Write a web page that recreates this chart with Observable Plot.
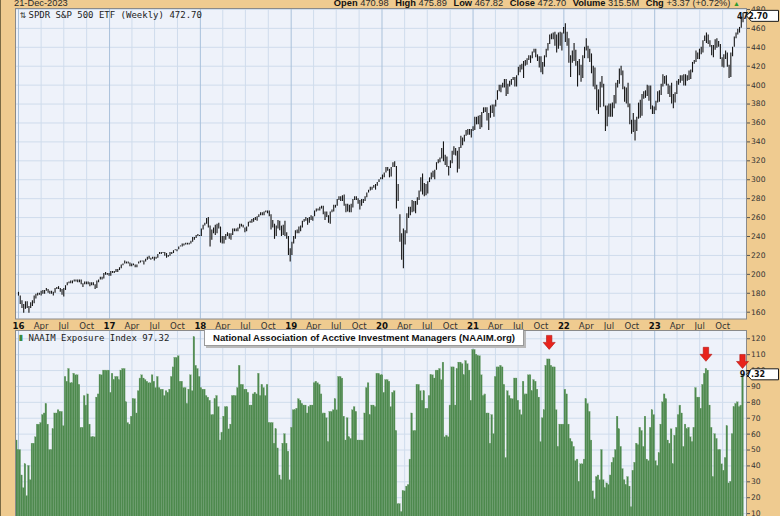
<!DOCTYPE html>
<html><head><meta charset="utf-8">
<script src="https://cdn.jsdelivr.net/npm/d3@7"></script>
<script src="https://cdn.jsdelivr.net/npm/@observablehq/plot@0.6"></script>
<style>
html,body{margin:0;padding:0;background:#efcb90;}
#wrap{position:relative;width:780px;height:516px;overflow:hidden;background:#efcb90;font-family:"Liberation Sans",Arial,sans-serif;}
#wrap svg{position:absolute;left:0;overflow:visible;}
.hdr{position:absolute;top:-2px;font-size:9.3px;line-height:10px;color:#2a2a2a;white-space:nowrap;}
.hdr b{font-weight:bold;color:#111;margin-left:4px;}
#edge{position:absolute;left:0;top:0;width:1px;height:516px;background:#7a6a44;}
#naaimBox{position:absolute;left:204px;top:329px;width:318px;height:15px;background:#fff;border:1px solid #9a9a9a;box-shadow:2px 2px 0 #b9b9b9;font:bold 9.6px "Liberation Sans",Arial,sans-serif;line-height:15px;text-align:center;color:#111;}
</style></head><body>
<div id="wrap"></div>
<script>
// ---------------- data ----------------
const priceStart = "2016-01-01";           // first weekly bar (week ending)
const spyLow = [177,
168,164,159,163,164,159,164,166,169,174,177,178,177,179,179,182,180,179,179,177,180,184,184,181,178,176,183,188,190,190,190,192,192,191,191,189,186,189,189,189,187,188,188,184,185,191,194,194,195,199,199,198,
198,201,201,202,202,204,206,209,211,211,211,208,208,209,207,207,211,212,213,210,213,215,216,215,216,214,216,217,221,221,222,219,217,218,219,221,222,225,224,226,229,229,230,231,231,231,232,234,236,238,240,240,
240,247,251,253,249,229,236,243,241,243,248,233,232,232,236,240,237,236,241,245,245,245,248,250,249,244,245,250,254,254,255,257,256,260,262,262,262,265,264,261,247,249,237,240,248,246,240,241,240,237,220,213,
220,232,237,243,243,245,249,255,256,252,254,257,256,261,266,267,267,269,263,257,260,254,253,265,266,270,272,278,277,277,272,265,266,265,265,270,278,278,274,268,272,275,277,281,286,288,289,291,289,293,297,300,
300,302,307,309,302,303,313,313,269,277,234,215,206,231,243,259,262,265,266,264,273,278,287,284,282,283,285,297,300,302,300,310,317,318,322,319,315,313,304,312,317,326,325,307,311,333,336,340,346,347,347,344,351,
352,358,358,353,355,370,371,362,352,365,370,366,377,384,393,392,397,397,388,390,398,400,405,398,398,410,413,416,407,420,421,426,423,428,434,429,425,418,413,411,419,429,436,443,448,448,441,434,438,441,436,454,
445,441,423,408,423,425,420,398,410,403,407,428,436,428,424,412,398,395,373,369,376,397,377,351,356,366,366,366,375,380,397,401,410,395,382,380,376,358,348,350,341,351,364,365,367,385,386,388,383,374,369,369,
373,381,382,389,398,401,399,390,387,380,375,381,390,400,402,404,399,399,404,405,406,413,422,424,427,427,432,434,446,444,443,440,431,429,437,439,440,427,419,418,427,419,407,408,430,440,449,453,455,460,466];
const spyHigh = [181,
177,172,168,171,171,166,170,172,177,179,180,180,182,183,183,185,184,182,182,181,185,186,187,185,184,185,188,191,192,193,193,194,194,194,194,194,190,192,192,192,191,191,191,189,193,194,197,197,201,202,201,201,
203,203,203,205,205,207,210,211,214,213,213,212,211,211,210,210,213,214,214,214,216,218,219,217,218,218,218,221,223,223,223,223,222,220,223,223,225,226,226,229,230,232,232,233,233,233,235,239,239,241,242,241,
248,252,254,259,260,251,247,249,252,253,254,250,240,240,242,244,243,243,248,248,248,249,253,253,252,249,250,255,256,258,259,260,261,263,265,265,266,267,267,267,263,257,253,251,257,256,251,252,256,244,240,227,
234,240,246,247,250,251,256,258,260,259,260,262,261,267,269,269,271,272,272,266,266,262,266,268,273,273,279,282,282,283,284,274,274,273,274,279,282,282,280,278,279,279,282,286,289,292,292,294,295,297,300,302,
305,307,313,313,311,313,318,319,314,295,263,243,248,246,264,271,271,278,277,277,281,288,302,306,296,295,298,302,307,309,310,318,321,323,333,340,326,324,314,320,330,335,333,330,334,346,344,347,352,353,353,353,356,
366,366,367,368,371,376,376,376,370,378,379,379,384,394,400,400,402,406,406,401,404,406,408,408,410,419,421,422,425,426,428,431,431,435,438,438,432,430,430,424,431,438,444,453,454,455,456,453,455,456,455,461,
465,456,449,431,436,444,437,425,427,421,431,440,449,441,438,433,420,418,400,395,403,409,401,378,378,380,380,381,389,402,405,417,420,415,398,397,402,380,363,370,363,366,381,384,390,393,394,400,399,399,378,377,
383,393,394,401,411,409,410,401,399,402,390,392,404,406,410,410,411,411,410,415,416,424,426,436,434,438,440,447,452,455,453,447,442,442,448,449,446,443,429,432,436,434,421,434,440,451,455,459,461,472,476];
const spyLast = 472.70;

const naaimStart = "2015-12-18";           // first weekly reading (partly hidden by the left edge)
const naaim = [
56,56,50,50,34,26,41,21,40,31, 54,54,58,66,66,67,72,73,79,66, 50,50,63,73,73,75,74,74,65,96,
93,101,92,92,98,97,97,91,64,64, 84,78,85,66,58,58,58,83,85,97, 97,100,100,100,100,86,98,94,96,96,
94,100,101,101,80,67,66,71,82,82, 73,87,95,97,95,94,93,92,92,97, 93,89,96,89,88,88,84,87,86,88,
96,102,108,108,109,93,93,89,89,79, 88,97,87,121,103,101,96,89,88,88, 84,83,81,72,72,82,84,77,56,61,
71,77,77,63,66,84,84,84,89,103, 91,91,88,88,86,78,78,85,86,85, 98,84,91,89,84,91,67,67,67,54,
63,51,34,31,54,60,54,49,31,64, 75,75,76,82,81,79,78,78,73,77, 78,78,92,93,92,91,85,73,73,70,
55,74,74,75,82,75,96,96,95,71, 56,70,58,57,75,77,74,56,56,56, 56,73,89,92,72,78,78,77,98,98,
97, 97,86,94,94,93,77,86,87,62,
16,16,11,24,24,27,28,44,73,62, 62,91,91,87,81,87,76,76,84,97, 97,95,100,100,101,94,105,58,59,58,
78,102,102,78,101,105,105,104,97,106, 104,100,81,113,113,110,109,109,97,84, 85,73,73,54,72,60,96,102,102,103,
102,91,45,87,84,82,82,95,95,81, 75,72,93,85,85,97,97,87,94,93, 88,83,55,70,75,103,107,107,103,102,
102,75,52,66,66,66,88,85,66,57, 55,52,43,44,30,41,41,44,82,79, 74,56,24,19,33,34,31,50,31,26,
29,28,34,42,45,50,71,63,52,38, 31,28,33,27,14,37,42,54,53,64, 62,52,71,44,43,64,75,72,43,40,
48,66,80,85,82,56,54,63,41,59, 64,72,78,73,52,66,63,64,58,55, 64,89,83,83,76,91,98,101,100,78,
64,33,60,57,50,50,41,37,45,65, 29,30,60,77,79,80,77,78,97.32];
const naaimLast = 97.32;

const priceTicks = [160,180,200,220,240,260,280,300,320,340,360,380,400,420,440,460,480];
const naaimTicks = [10,20,30,40,50,60,70,80,90,100,110,120];
const yearLabels = ["16","17","18","19","20","21","22","23"];
const monthLabels = ["Apr","Jul","Oct"];
const arrowDates = ["2021-11-05","2023-07-28","2023-12-22"];
const arrowTips = [113,105.5,101];

const headerDate = "21-Dec-2023";
const headerStats = [["Open","470.98"],["High","475.89"],["Low","467.82"],["Close","472.70"],["Volume","315.5M"],["Chg","+3.37 (+0.72%)"]];

// ---------------- build ----------------
const DAY = 864e5;
const t0 = new Date(priceStart + "T00:00:00Z");
const spy = spyLow.map((lo, i) => ({date: new Date(+t0 + i * 7 * DAY), low: lo, high: spyHigh[i]}));
const n0 = new Date(naaimStart + "T00:00:00Z");
const naaimData = naaim.map((v, i) => ({date: new Date(+n0 + i * 7 * DAY), value: v}));

const xDomain = [new Date("2015-12-20T00:00:00Z"), new Date("2024-01-05T00:00:00Z")];
const quarters = d3.utcMonth.every(3).range(new Date("2016-01-01T00:00:00Z"), new Date("2024-01-01T00:00:00Z"));
const years = quarters.filter(d => d.getUTCMonth() === 0);
const months = quarters.filter(d => d.getUTCMonth() !== 0);
const fmtYear = d => yearLabels[d.getUTCFullYear() - 2016];
const fmtMonth = d => monthLabels[d.getUTCMonth() / 3 - 1];

const BG = "#eef2fa", GRID = "#cfdcec", GRIDY = "#a9c1db", AXC = "#333";

function valueBox(value, label) {
  return (index, scales, values, dims) => {
    const y = scales.y(value);
    const x0 = dims.width - dims.marginRight;
    const g = d3.create("svg:g");
    g.append("path")
      .attr("d", `M${x0 + 0.5},${y} L${x0 + 5.5},${y - 5.5} H${x0 + 32.5} V${y + 5.5} H${x0 + 5.5} Z`)
      .attr("fill", "#fff").attr("stroke", "#1a1a1a").attr("stroke-width", 1);
    g.append("text").attr("x", x0 + 6.5).attr("y", y).attr("dy", "0.36em")
      .attr("font-family", "DejaVu Sans").attr("font-weight", "bold").attr("font-size", 8).attr("fill", "#111")
      .text(label);
    return g.node();
  };
}

const wrap = document.getElementById("wrap");

const upper = Plot.plot({
  width: 780, height: 330,
  marginTop: 8, marginBottom: 11.5, marginLeft: 15, marginRight: 34,
  x: {type: "utc", domain: xDomain, label: null},
  y: {domain: [152.8, 481.0], label: null},
  style: {background: "transparent", fontFamily: "DejaVu Sans", color: AXC},
  marks: [
    Plot.frame({fill: BG}),
    Plot.ruleY(priceTicks, {stroke: GRID, strokeWidth: 1}),
    Plot.ruleX(months, {stroke: GRID, strokeWidth: 1}),
    Plot.ruleX(years, {stroke: GRIDY, strokeWidth: 1}),
    Plot.ruleX(spy, {x: "date", y1: "low", y2: "high", stroke: "#151515", strokeWidth: 1.1}),
    Plot.frame({stroke: "#8a8a8a"}),
    Plot.axisY(priceTicks, {anchor: "right", label: null, tickSize: 3, tickPadding: 1.5, fontSize: 7.6, stroke: "#555", fill: "#333", tickFormat: d => d}),
    Plot.axisX(months, {anchor: "bottom", label: null, tickSize: 0, tickPadding: 3.5, fontSize: 8.6, fill: "#333", tickFormat: fmtMonth}),
    Plot.axisX(years, {anchor: "bottom", label: null, tickSize: 0, tickPadding: 3.5, fontSize: 8.6, fontWeight: "bold", fill: "#111", tickFormat: fmtYear}),
    Plot.text(["⇅"], {frameAnchor: "top-left", dx: 4, dy: 4, fontSize: 8, fill: "#333", textAnchor: "start", lineAnchor: "top"}),
    Plot.text([`SPDR S&P 500 ETF (Weekly) ${spyLast.toFixed(2)}`], {frameAnchor: "top-left", dx: 13, dy: 3.5, fontSize: 9, fontFamily: "DejaVu Sans Mono", fill: "#222", textAnchor: "start", lineAnchor: "top"}),
    valueBox(spyLast, spyLast.toFixed(2))
  ]
});
upper.style.top = "0px";
wrap.appendChild(upper);

const lower = Plot.plot({
  width: 780, height: 199,
  marginTop: 0, marginBottom: 0, marginLeft: 15, marginRight: 34,
  x: {type: "utc", domain: xDomain, axis: null, label: null},
  y: {domain: [0, 125.2], label: null},
  style: {background: "transparent", fontFamily: "DejaVu Sans", color: AXC},
  marks: [
    Plot.frame({fill: BG}),
    Plot.ruleY(naaimTicks, {stroke: GRID, strokeWidth: 1}),
    Plot.ruleX(months, {stroke: GRID, strokeWidth: 1}),
    Plot.ruleX(years, {stroke: GRIDY, strokeWidth: 1}),
    Plot.rectY(naaimData, {
      x1: d => new Date(+d.date - 3.5 * DAY), x2: d => new Date(+d.date + 3.5 * DAY),
      y: "value", fill: "#4d894d", stroke: "#6f9f6f", strokeWidth: 0.25, clip: true
    }),
    Plot.frame({stroke: "#8a8a8a"}),
    Plot.axisY(naaimTicks, {anchor: "right", label: null, tickSize: 3, tickPadding: 1.5, fontSize: 7.6, stroke: "#555", fill: "#333"}),
    Plot.text(["▮"], {frameAnchor: "top-left", dx: 3, dy: 4, fontSize: 8, fill: "#3d8a3d", textAnchor: "start", lineAnchor: "top"}),
    Plot.text([`NAAIM Exposure Index ${naaimLast.toFixed(2)}`], {frameAnchor: "top-left", dx: 13, dy: 4, fontSize: 9, fontFamily: "DejaVu Sans Mono", fill: "#222", textAnchor: "start", lineAnchor: "top"}),
    (index, scales) => {
      const g = d3.create("svg:g");
      arrowDates.forEach((d, i) => {
        const x = scales.x(new Date(d + "T00:00:00Z")), y = scales.y(arrowTips[i]);
        g.append("path")
          .attr("d", `M${x},${y} l-6,-7 h3.3 v-7 h5.4 v7 h3.3 Z`)
          .attr("fill", "#e8231c").attr("stroke", "#b3140f").attr("stroke-width", 0.6);
      });
      return g.node();
    },
    valueBox(naaimLast, naaimLast.toFixed(2))
  ]
});
lower.style.top = "330px";
wrap.appendChild(lower);

// header texts
const hl = document.createElement("div");
hl.className = "hdr"; hl.style.left = "14px"; hl.textContent = headerDate;
wrap.appendChild(hl);
const hr = document.createElement("div");
hr.className = "hdr"; hr.style.right = "40px";
hr.innerHTML = headerStats.map(([k, v]) => `<b>${k}</b> ${v}`).join(" ") + ' <span style="color:#2e9a2e;font-size:7px">▲</span>';
wrap.appendChild(hr);

const box = document.createElement("div");
box.id = "naaimBox"; box.textContent = "National Association of Acctive Investment Managers (NAAIM.org)";
wrap.appendChild(box);
const edge = document.createElement("div"); edge.id = "edge"; wrap.appendChild(edge);
</script>
</body></html>
